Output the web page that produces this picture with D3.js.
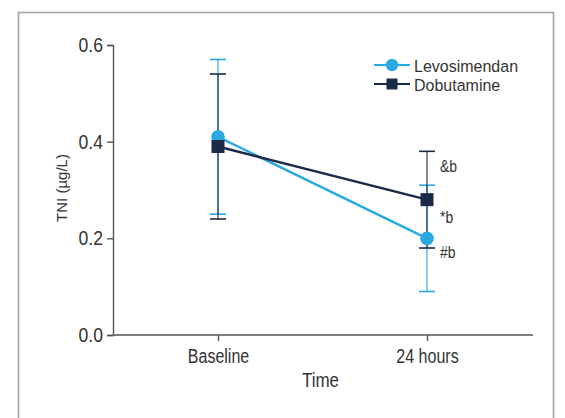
<!DOCTYPE html>
<html>
<head>
<meta charset="utf-8">
<script src="https://cdn.jsdelivr.net/npm/d3@7"></script>
<style>
  html, body { margin: 0; padding: 0; background: #fff; }
  svg text { font-family: "Liberation Sans", Arial, sans-serif; fill: #333; }
</style>
</head>
<body>
<svg id="chart" width="565" height="418"></svg>
<script>
// Time points and troponin I values (mean with error bar limits)
const timepoints = ["Baseline", "24 hours"];
const seriesNames = ["Levosimendan", "Dobutamine"];
const levoMean = [0.41, 0.20];
const levoLow  = [0.25, 0.09];
const levoHigh = [0.57, 0.31];
const dobuMean = [0.39, 0.28];
const dobuLow  = [0.24, 0.18];
const dobuHigh = [0.54, 0.38];
const yTicks = [0.0, 0.2, 0.4, 0.6];
const annotationText = ["&b", "*b", "#b"];
const annotationLevel = [0.337, 0.232, 0.159];

const colors = { Levosimendan: "#29a9e0", Dobutamine: "#1b2a47" };

// narrow lettering: squeeze text horizontally around its own x position
function squeeze(sel, sx) {
  sel.each(function () {
    const t = d3.select(this);
    const x = +t.attr("x") || 0;
    t.attr("x", x / sx).attr("transform", `scale(${sx},1)`);
  });
}

const svg = d3.select("#chart");

// outer frame
svg.append("rect")
  .attr("x", 18.5).attr("y", 12.5)
  .attr("width", 535).attr("height", 420)
  .attr("fill", "none").attr("stroke", "#a3a3a3").attr("stroke-width", 1.6);

const x = d3.scalePoint().domain(timepoints).range([218, 427]);
const y = d3.scaleLinear().domain([0, 0.6]).range([335, 45]);
const axisLeftX = 113, axisRightX = 533;

const g = svg.append("g");

// y axis
const yAxis = g.append("g")
  .attr("transform", `translate(${axisLeftX},0)`)
  .call(d3.axisLeft(y).tickValues(yTicks).tickFormat(d3.format(".1f")).tickSize(6).tickPadding(4));
yAxis.select(".domain").attr("stroke", "#555").attr("stroke-width", 1.4);
yAxis.selectAll(".tick line").attr("stroke", "#555").attr("stroke-width", 1.4);
yAxis.selectAll(".tick text")
  .attr("font-size", 20).attr("fill", "#333")
  .style("font-family", '"Liberation Sans", Arial, sans-serif')
  .call(squeeze, 0.88);

// x axis
const xAxis = g.append("g")
  .attr("transform", `translate(0,${y(0)})`)
  .call(d3.axisBottom(x).tickSize(6).tickPadding(8).tickSizeOuter(0));
xAxis.select(".domain")
  .attr("d", `M${axisLeftX},0H${axisRightX}`)
  .attr("stroke", "#555").attr("stroke-width", 1.4);
xAxis.selectAll(".tick line").attr("stroke", "#555").attr("stroke-width", 1.4);
xAxis.selectAll(".tick text")
  .attr("font-size", 20).attr("fill", "#333")
  .style("font-family", '"Liberation Sans", Arial, sans-serif')
  .call(squeeze, 0.8);

// axis titles
svg.append("text")
  .attr("transform", `translate(67,${y(0.3) - 2}) rotate(-90)`)
  .attr("text-anchor", "middle")
  .attr("font-size", 15)
  .text("TNI (µg/L)");
svg.append("text")
  .attr("x", (x("Baseline") + x("24 hours")) / 2 - 2)
  .attr("y", 387)
  .attr("text-anchor", "middle")
  .attr("font-size", 20)
  .text("Time")
  .call(squeeze, 0.85);

const series = [
  { name: "Levosimendan", mean: levoMean, low: levoLow, high: levoHigh, shape: "circle" },
  { name: "Dobutamine", mean: dobuMean, low: dobuLow, high: dobuHigh, shape: "square" }
];

const capHalf = 8;
const line = d3.line().x((d, i) => x(timepoints[i])).y(d => y(d));

// error bars
series.forEach(s => {
  const eg = g.append("g");
  timepoints.forEach((t, i) => {
    const cx = x(t);
    eg.append("line").attr("x1", cx).attr("x2", cx)
      .attr("y1", y(s.low[i])).attr("y2", y(s.high[i]))
      .attr("stroke", colors[s.name]).attr("stroke-width", 1.3).attr("opacity", 0.85);
    [s.low[i], s.high[i]].forEach(v => {
      eg.append("line").attr("x1", cx - capHalf).attr("x2", cx + capHalf)
        .attr("y1", y(v)).attr("y2", y(v))
        .attr("stroke", colors[s.name]).attr("stroke-width", 1.6);
    });
  });
});

// lines and markers
series.forEach(s => {
  g.append("path").datum(s.mean)
    .attr("d", line).attr("fill", "none")
    .attr("stroke", colors[s.name]).attr("stroke-width", 2.4);
  s.mean.forEach((v, i) => {
    if (s.shape === "circle") {
      g.append("circle").attr("cx", x(timepoints[i])).attr("cy", y(v)).attr("r", 6.8)
        .attr("fill", colors[s.name]);
    } else {
      g.append("rect").attr("x", x(timepoints[i]) - 6.5).attr("y", y(v) - 6.5)
        .attr("width", 13).attr("height", 13).attr("fill", colors[s.name]);
    }
  });
});

// significance annotations at the 24 hours point
annotationText.forEach((txt, i) => {
  svg.append("text")
    .attr("x", x("24 hours") + 13).attr("y", y(annotationLevel[i]))
    .attr("font-size", 17)
    .text(txt)
    .call(squeeze, 0.82);
});

// legend
const legend = svg.append("g").attr("transform", "translate(374,65)");
series.forEach((s, i) => {
  const lg = legend.append("g").attr("transform", `translate(0,${i * 19})`);
  lg.append("line").attr("x1", 0).attr("x2", 36).attr("y1", 0).attr("y2", 0)
    .attr("stroke", colors[s.name]).attr("stroke-width", 2.2);
  if (s.shape === "circle") {
    lg.append("circle").attr("cx", 18).attr("cy", 0).attr("r", 6.2).attr("fill", colors[s.name]);
  } else {
    lg.append("rect").attr("x", 12.5).attr("y", -5.5).attr("width", 11).attr("height", 11).attr("fill", colors[s.name]);
  }
  lg.append("text").attr("x", 40).attr("y", 7).attr("font-size", 16.5).text(s.name)
    .call(squeeze, 0.97);
});
</script>
</body>
</html>
